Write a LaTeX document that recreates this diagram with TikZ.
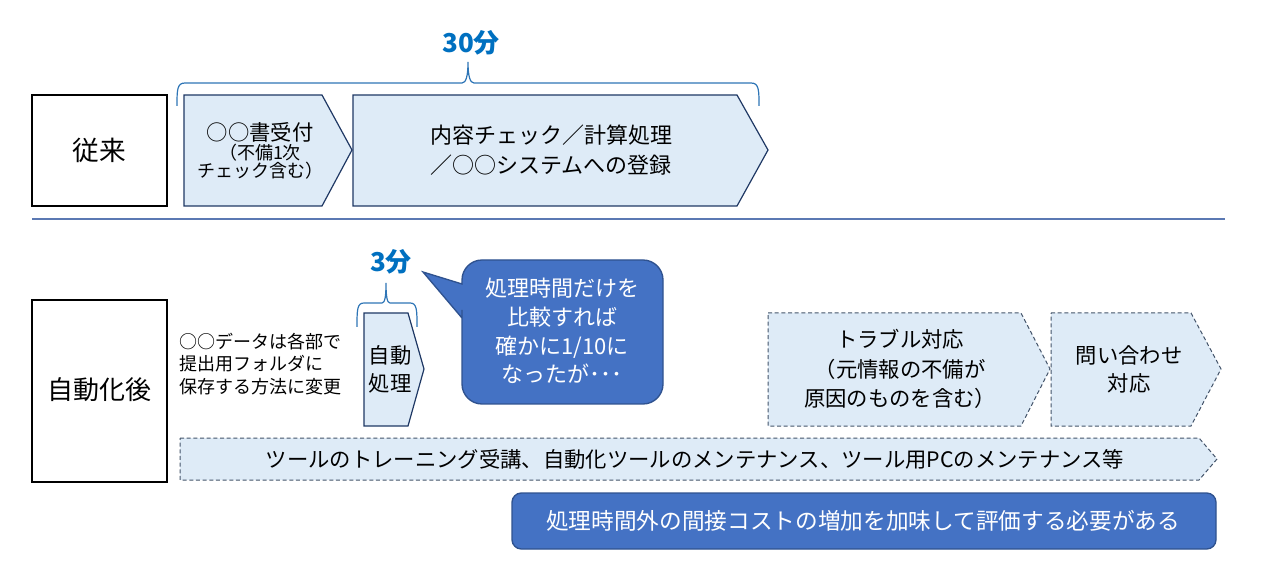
\documentclass[tikz,border=0pt]{standalone}
\usepackage{fontspec}
\setmainfont{Noto Sans CJK JP}
\definecolor{boxfill}{HTML}{DEEBF7}
\definecolor{boxline}{HTML}{1F3864}
\definecolor{dashline}{HTML}{44546A}
\definecolor{callfill}{HTML}{4472C4}
\definecolor{callline}{HTML}{2F528F}
\definecolor{bluetxt}{HTML}{0070C0}
\definecolor{bracecol}{HTML}{2E75B6}
\definecolor{sepcol}{HTML}{5B79B3}
\begin{document}
\begin{tikzpicture}[x=0.75pt,y=-0.75pt,
  txt/.style={align=center,inner sep=0pt},
  labelbox/.style={draw=black,line width=1.1pt,fill=white},
  solidarrow/.style={draw=boxline,line width=0.9pt,fill=boxfill,line join=miter},
  dasharrow/.style={draw=dashline,line width=0.75pt,fill=boxfill,dash pattern=on 3pt off 2pt},
  bracestyle/.style={draw=bracecol,line width=0.9pt},
  callstyle/.style={draw=callline,line width=1pt,fill=callfill},
  timelbl/.style={txt,text=bluetxt,font=\fontsize{19.5}{23}\selectfont\bfseries}]
\useasboundingbox (0,0) rectangle (1280,580);

% --- upper part (従来)
\draw[labelbox] (32,95) rectangle (167,206);
\node[txt,font=\fontsize{20}{24}\selectfont] (conv) at (99.5,150) {従来};

\draw[solidarrow] (184,95) -- (322,95) -- (352,150) -- (322,206) -- (184,206) -- cycle;
\node[txt] (recv) at (260,151) {{\fontsize{16}{20}\selectfont ○○書受付}\\[0pt]
  {\fontsize{13.5}{18}\selectfont （不備1次}\\[0pt]
  {\fontsize{13.5}{18}\selectfont チェック含む）}};

\draw[solidarrow] (353,95) -- (737,95) -- (768,150) -- (737,206) -- (353,206) -- cycle;
\node[txt,font=\fontsize{16.5}{22.5}\selectfont] (check) at (551,150) {内容チェック／計算処理\\／○○システムへの登録};

\draw[bracestyle] (177,106) .. controls (177,90) and (177,83) .. (185,83) -- (462,83)
  .. controls (466,83) and (468,76) .. (468,62) .. controls (468,76) and (470,83) .. (474,83)
  -- (751,83) .. controls (759,83) and (759,90) .. (759,106);
\node[timelbl] (t30) at (471,43) {30分};

% separator
\draw[draw=sepcol,line width=1pt] (32,219) -- (1225,219);

% --- lower part (自動化後)
\draw[labelbox] (32,300) rectangle (167,482);
\node[txt,font=\fontsize{19.5}{24}\selectfont] (auto) at (99.5,390) {自動化後};

\node[txt,anchor=west,align=left,font=\fontsize{13.5}{16.9}\selectfont] (note) at (179,364)
  {○○データは各部で\\提出用フォルダに\\保存する方法に変更};

\draw[solidarrow] (364,313) -- (408,313) -- (424,369) -- (408,426) -- (364,426) -- cycle;
\node[txt,font=\fontsize{16}{21}\selectfont] (proc) at (390,369) {自動\\処理};

\draw[bracestyle] (357,327) .. controls (357,310) and (357,303) .. (364,303) -- (382,303)
  .. controls (385,303) and (386,296) .. (386,283) .. controls (386,296) and (387,303) .. (390,303)
  -- (410,303) .. controls (417,303) and (417,310) .. (417,327);
\node[timelbl] (t3) at (391,262) {3分};

\draw[callstyle] (462,318) -- (423,272) -- (462,284) [rounded corners=15pt] -- (462,260) -- (663,260)
  -- (663,404) -- (462,404) -- (462,330) [sharp corners] -- cycle;
\node[txt,text=white,font=\fontsize{16.5}{21.5}\selectfont] (callout) at (562,331)
  {処理時間だけを\\比較すれば\\確かに1/10に\\なったが･･･};

\draw[dasharrow] (768,313) -- (1021,313) -- (1050,369) -- (1021,426) -- (768,426) -- cycle;
\node[txt,font=\fontsize{16}{22}\selectfont] (trouble) at (900,369)
  {トラブル対応\\（元情報の不備が\\原因のものを含む）};

\draw[dasharrow] (1051,313) -- (1191,313) -- (1221,369) -- (1191,426) -- (1051,426) -- cycle;
\node[txt,font=\fontsize{16}{21}\selectfont] (inq) at (1129,369) {問い合わせ\\対応};

\draw[dasharrow] (180,438) -- (1199,438) -- (1217,459) -- (1199,480) -- (180,480) -- cycle;
\node[txt,font=\fontsize{16}{19}\selectfont] (maint) at (695,459)
  {ツールのトレーニング受講、自動化ツールのメンテナンス、ツール用PCのメンテナンス等};

\draw[callstyle,rounded corners=7pt] (512,493) rectangle (1216,549);
\node[txt,text=white,font=\fontsize{17}{21}\selectfont] (concl) at (863,521)
  {処理時間外の間接コストの増加を加味して評価する必要がある};
\end{tikzpicture}
\end{document}
